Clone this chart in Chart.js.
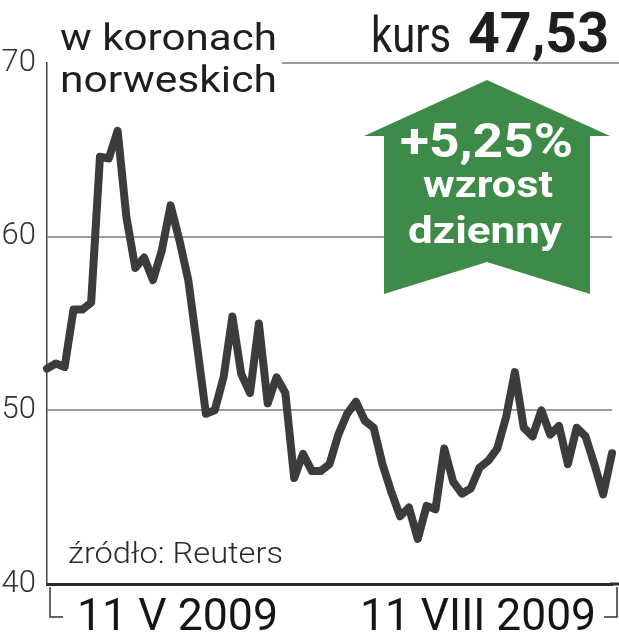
<!DOCTYPE html>
<html>
<head>
<meta charset="utf-8">
<script src="https://cdn.jsdelivr.net/npm/chart.js@4.4.0/dist/chart.umd.min.js"></script>
<style>
  html, body { margin: 0; padding: 0; background: #fff; }
  canvas { display: block; }
</style>
</head>
<body>
<canvas id="kursChart" width="619" height="640"></canvas>
<script>
// kurs w koronach norweskich, sesje od 11 V do 11 VIII 2009
const kursy = [
  52.4, 52.7, 52.5, 55.8, 55.8, 56.2, 64.6, 64.5, 66.1, 61.1,
  58.2, 58.8, 57.5, 59.2, 61.8, 59.8, 57.5, 53.7, 49.8, 50.0,
  51.9, 55.4, 52.1, 51.0, 55.0, 50.4, 51.9, 51.0, 46.1, 47.5,
  46.5, 46.5, 46.9, 48.6, 49.8, 50.5, 49.4, 49.0, 46.9, 45.3,
  43.9, 44.4, 42.6, 44.5, 44.3, 47.8, 45.9, 45.2, 45.5, 46.7,
  47.1, 47.8, 49.6, 52.2, 49.0, 48.5, 50.0, 48.6, 49.1, 46.9,
  49.0, 48.5, 46.9, 45.16, 47.53
];
const sesje = kursy.map((v, i) => 'sesja ' + (i + 1));
const yTicks = [40, 50, 60, 70];
const dataOd = '11 V 2009';
const dataDo = '11 VIII 2009';
const kursOstatni = '47,53';
const zmiana = '+5,25%';

const GRID = '#9c9c9c';
const DARK = '#2b2b2b';
const GREEN = '#3e8a48';

// tekst dopasowany do zadanej szerokosci
function tekst(ctx, s, x, y, w, font, color) {
  ctx.font = font;
  ctx.fillStyle = color;
  ctx.textAlign = 'left';
  ctx.textBaseline = 'alphabetic';
  const m = ctx.measureText(s).width;
  ctx.save();
  ctx.translate(x, y);
  ctx.scale(w / m, 1);
  ctx.fillText(s, 0, 0);
  ctx.restore();
}

const dodatki = {
  id: 'dodatki',
  afterDraw(chart) {
    const ctx = chart.ctx;
    const y = chart.scales.y;
    const area = chart.chartArea;
    ctx.save();

    // linia 70 pod naglowkiem
    ctx.strokeStyle = GRID;
    ctx.lineWidth = 2;
    ctx.beginPath();
    ctx.moveTo(282, y.getPixelForValue(70));
    ctx.lineTo(619, y.getPixelForValue(70));
    ctx.stroke();

    // przedluzenie osi x
    ctx.strokeStyle = DARK;
    ctx.lineWidth = 3;
    ctx.beginPath();
    ctx.moveTo(area.right - 2, area.bottom);
    ctx.lineTo(619, area.bottom);
    ctx.stroke();

    // naglowek
    tekst(ctx, 'w koronach', 60, 50, 217, '400 37px Roboto', '#1e1e1e');
    tekst(ctx, 'norweskich', 60, 92, 217, '400 37px Roboto', '#1e1e1e');
    tekst(ctx, 'kurs', 371, 52, 80, '400 50px Roboto', '#1e1e1e');
    tekst(ctx, kursOstatni, 468, 52, 141, '700 56px Roboto', '#1e1e1e');

    // strzalka
    ctx.fillStyle = GREEN;
    ctx.beginPath();
    ctx.moveTo(487, 80);
    ctx.lineTo(610, 136);
    ctx.lineTo(590, 136);
    ctx.lineTo(590, 294);
    ctx.lineTo(487, 262);
    ctx.lineTo(384, 294);
    ctx.lineTo(384, 136);
    ctx.lineTo(364, 136);
    ctx.closePath();
    ctx.fill();
    tekst(ctx, zmiana, 400, 157, 173, '700 48px Roboto', '#fff');
    tekst(ctx, 'wzrost', 423, 197, 130, '700 37px Roboto', '#fff');
    tekst(ctx, 'dzienny', 408, 243, 154, '700 37px Roboto', '#fff');

    // zrodlo
    tekst(ctx, 'źródło: Reuters', 68, 563, 215, '300 29px Roboto', '#2a2a2a');

    // daty i klamry
    tekst(ctx, dataOd, 77, 630, 201, '400 45px Roboto', '#151515');
    tekst(ctx, dataDo, 360, 630, 236, '400 45px Roboto', '#151515');
    ctx.strokeStyle = '#333';
    ctx.lineWidth = 1.5;
    ctx.beginPath();
    ctx.moveTo(50, 587);
    ctx.lineTo(50, 617);
    ctx.lineTo(63, 617);
    ctx.moveTo(617, 587);
    ctx.lineTo(617, 617);
    ctx.lineTo(604, 617);
    ctx.stroke();

    ctx.restore();
  }
};

new Chart(document.getElementById('kursChart').getContext('2d'), {
  type: 'line',
  data: {
    labels: sesje,
    datasets: [{
      data: kursy,
      borderColor: '#3c3c3c',
      borderWidth: 8,
      borderJoinStyle: 'round',
      borderCapStyle: 'round',
      pointRadius: 0,
      tension: 0,
      fill: false,
      clip: false
    }]
  },
  options: {
    responsive: false,
    animation: false,
    layout: { padding: { top: 63, right: 7, left: 0, bottom: 0 } },
    plugins: {
      legend: { display: false },
      tooltip: { enabled: false }
    },
    scales: {
      x: {
        offset: false,
        ticks: { display: false },
        grid: { display: false, drawTicks: false },
        border: { display: true, color: DARK, width: 3 },
        afterFit(scale) { scale.height = 56; }
      },
      y: {
        min: 40,
        max: 70,
        afterBuildTicks(scale) { scale.ticks = yTicks.map(v => ({ value: v })); },
        ticks: {
          padding: 11,
          color: '#333',
          font: { family: 'Roboto', size: 31, weight: '300' }
        },
        grid: {
          drawTicks: false,
          lineWidth: 2,
          color: c => (c.tick.value === 50 || c.tick.value === 60) ? GRID : 'rgba(0,0,0,0)'
        },
        border: { display: true, color: '#444', width: 1.5 },
        afterFit(scale) { scale.width = 47; }
      }
    }
  },
  plugins: [dodatki]
});
</script>
</body>
</html>
